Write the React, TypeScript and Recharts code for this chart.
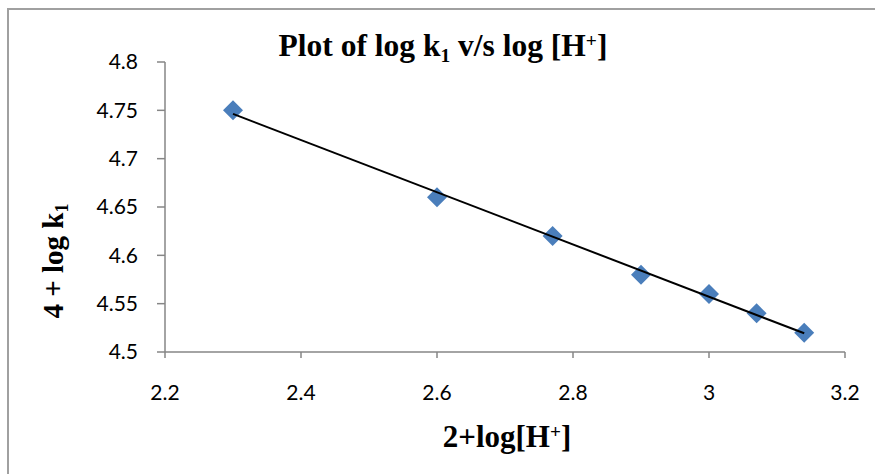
import { CartesianGrid, Scatter, ScatterChart, XAxis, YAxis } from "recharts";

const X_VALUES = [2.3, 2.6, 2.77, 2.9, 3.0, 3.07, 3.14];
const Y_VALUES = [4.75, 4.66, 4.62, 4.58, 4.56, 4.54, 4.52];
const X_TICKS = [2.2, 2.4, 2.6, 2.8, 3, 3.2];
const Y_TICKS = [4.5, 4.55, 4.6, 4.65, 4.7, 4.75, 4.8];

const points = X_VALUES.map((x, i) => ({ x, y: Y_VALUES[i] }));

// linear trendline (least squares), like Excel's
const n = X_VALUES.length;
const mx = X_VALUES.reduce((a, b) => a + b, 0) / n;
const my = Y_VALUES.reduce((a, b) => a + b, 0) / n;
let sxy = 0;
let sxx = 0;
X_VALUES.forEach((x, i) => {
  sxy += (x - mx) * (Y_VALUES[i] - my);
  sxx += (x - mx) * (x - mx);
});
const slope = sxy / sxx;
const icept = my - slope * mx;
const xMin = Math.min(...X_VALUES);
const xMax = Math.max(...X_VALUES);
const trend = [
  { x: xMin, y: icept + slope * xMin },
  { x: xMax, y: icept + slope * xMax },
];

const AXIS = "#868686";
const TICK = { fontSize: 21, fill: "#000", fontFamily: "Lato, 'Noto Sans', sans-serif" };
const SERIF = "'Liberation Serif', 'Times New Roman', serif";

function Diamond(props: any) {
  const { cx, cy } = props;
  const r = 10;
  return (
    <polygon
      points={`${cx},${cy - r} ${cx + r},${cy} ${cx},${cy + r} ${cx - r},${cy}`}
      fill="#4a7ebb"
    />
  );
}

const small = { fontSize: "0.62em", position: "relative" as const, lineHeight: 0 };

export default function App() {
  return (
    <div
      style={{
        position: "absolute",
        left: 0,
        top: 0,
        width: 875,
        height: 474,
        overflow: "hidden",
        background: "#fff",
      }}
    >
      <div
        style={{
          position: "absolute",
          left: 7,
          top: 8,
          width: 900,
          height: 500,
          border: "2px solid #a0a0a0",
        }}
      />
      <div style={{ position: "absolute", left: 0, top: 0 }}>
        <ScatterChart width={875} height={474} margin={{ top: 62, right: 30, bottom: 0, left: 0 }}>
          <CartesianGrid stroke="none" />
          <XAxis
            type="number"
            dataKey="x"
            domain={[2.2, 3.2]}
            ticks={X_TICKS}
            height={122}
            tick={TICK}
            tickSize={6}
            tickMargin={27}
            axisLine={{ stroke: AXIS, strokeWidth: 1.5 }}
            tickLine={{ stroke: AXIS, strokeWidth: 1.5 }}
            allowDataOverflow
          />
          <YAxis
            type="number"
            dataKey="y"
            domain={[4.5, 4.8]}
            ticks={Y_TICKS}
            width={165}
            tick={TICK}
            tickSize={8}
            tickMargin={19}
            axisLine={{ stroke: AXIS, strokeWidth: 1.5 }}
            tickLine={{ stroke: AXIS, strokeWidth: 1.5 }}
            allowDataOverflow
          />
          <Scatter data={points} shape={<Diamond />} isAnimationActive={false} />
          <Scatter
            data={trend}
            line={{ stroke: "#000", strokeWidth: 2 }}
            shape={() => <g />}
            isAnimationActive={false}
          />
        </ScatterChart>
      </div>
      <div
        style={{
          position: "absolute",
          left: 443,
          top: 30,
          transform: "translateX(-50%)",
          fontFamily: SERIF,
          fontWeight: "bold",
          fontSize: 31.5,
          lineHeight: 1,
          whiteSpace: "nowrap",
        }}
      >
        Plot of log k<span style={{ ...small, top: "0.3em" }}>1</span> v/s log [H
        <span style={{ ...small, top: "-0.45em" }}>+</span>]
      </div>
      <div
        style={{
          position: "absolute",
          left: 507,
          top: 421,
          transform: "translateX(-50%)",
          fontFamily: SERIF,
          fontWeight: "bold",
          fontSize: 31,
          lineHeight: 1,
          whiteSpace: "nowrap",
        }}
      >
        2+log[H<span style={{ ...small, top: "-0.45em" }}>+</span>]
      </div>
      <div
        style={{
          position: "absolute",
          left: 53,
          top: 261,
          transform: "translate(-50%, -50%) rotate(-90deg)",
          fontFamily: SERIF,
          fontWeight: "bold",
          fontSize: 29,
          lineHeight: 1,
          whiteSpace: "nowrap",
        }}
      >
        4 + log k<span style={{ ...small, top: "0.3em" }}>1</span>
      </div>
    </div>
  );
}
